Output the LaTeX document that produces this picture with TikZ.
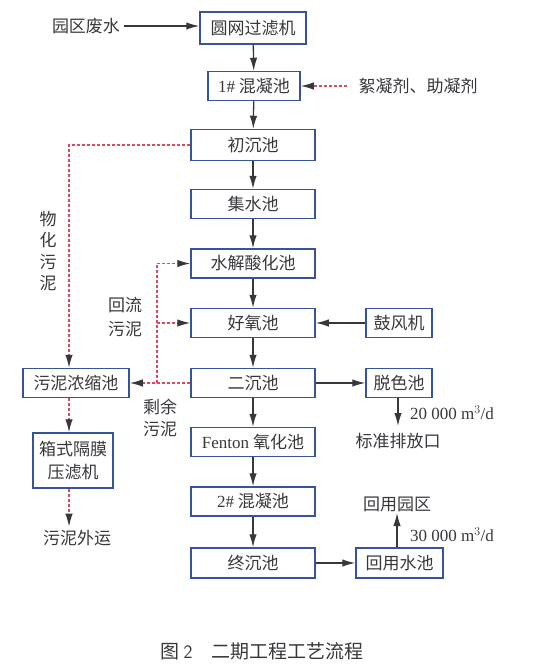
\documentclass[tikz,border=0pt]{standalone}
\usepackage{fontspec}
\setmainfont{Liberation Serif}
\newfontfamily\cjk{Noto Sans CJK SC}
\usetikzlibrary{arrows.meta}

\definecolor{poolblue}{RGB}{55,85,150}
\definecolor{inkgray}{RGB}{55,55,60}
\definecolor{sludgered}{RGB}{215,75,100}

\begin{document}
\begin{tikzpicture}[x=1pt,y=-1pt,
  every node/.style={font=\cjk\fontsize{17}{20}\selectfont, text=inkgray},
  pool/.style={draw=poolblue, line width=1.5pt, minimum height=29pt, inner sep=1pt},
  mainpool/.style={pool, minimum width=124pt},
  flow/.style={draw=inkgray, line width=1.3pt, -{Latex[length=13pt,width=7.5pt]}},
  sludge/.style={draw=sludgered, line width=1.3pt, dash pattern=on 3pt off 2pt,
    -{Latex[length=13pt,width=7.5pt,color=inkgray]}},
  plain/.style={draw=sludgered, line width=1.3pt, dash pattern=on 3pt off 2pt}]
  \useasboundingbox (0,0) rectangle (560,670);

  % main line
  \node[pool, minimum width=106pt, minimum height=32pt] (filter) at (253,28) {圆网过滤机};
  \node[pool, minimum width=92pt] (mix1) at (254,86) {{\rmfamily 1\#} 混凝池};
  \node[mainpool, minimum height=31pt] (primary) at (253,145) {初沉池};
  \node[mainpool] (collect) at (253,204) {集水池};
  \node[mainpool] (hydro) at (253,263.5) {水解酸化池};
  \node[mainpool] (aerobic) at (253,323) {好氧池};
  \node[mainpool] (second) at (253,383) {二沉池};
  \node[mainpool] (fenton) at (253,442) {{\rmfamily Fenton} 氧化池};
  \node[mainpool] (mix2) at (253,501.5) {{\rmfamily 2\#} 混凝池};
  \node[mainpool, minimum height=30pt] (final) at (253,563) {终沉池};

  % right side
  \node[pool, minimum width=66pt] (blower) at (399,323) {鼓风机};
  \node[pool, minimum width=66pt] (decolor) at (399,383) {脱色池};
  \node[pool, minimum width=87pt, minimum height=30pt] (reuse) at (399.5,563) {回用水池};

  % left side
  \node[pool, minimum width=106pt] (thicken) at (76,383) {污泥浓缩池};
  \node[pool, minimum width=80pt, minimum height=55pt, align=center,
    font=\cjk\fontsize{17}{23}\selectfont] (press) at (73,460.5) {箱式隔膜\\压滤机};

  % texts
  \node (waste) at (86,26) {园区废水};
  \node (floc) at (418,86) {絮凝剂、助凝剂};
  \node (haul) at (77,538) {污泥外运};
  \node (outlet) at (398,441) {标准排放口};
  \node[font=\rmfamily\fontsize{17}{20}\selectfont] (q1) at (452,413) {20 000 m$^3$/d};
  \node (park) at (397,504) {回用园区};
  \node[font=\rmfamily\fontsize{17}{20}\selectfont] (q2) at (452,535) {30 000 m$^3$/d};
  \node[align=center, font=\cjk\fontsize{17}{21.5}\selectfont] (chemlbl) at (48,251) {物\\化\\污\\泥};
  \node[align=center, font=\cjk\fontsize{17}{24}\selectfont] (returnlbl) at (125,317) {回流\\污泥};
  \node[align=center, font=\cjk\fontsize{17}{22}\selectfont] (excesslbl) at (160,418) {剩余\\污泥};
  \node[font=\cjk\fontsize{19}{22}\selectfont] (caption) at (262,651) {图 {\sffamily 2}\quad 二期工程工艺流程};

  % water flow
  \draw[flow] (waste.east) -- (waste.east -| filter.west);
  \draw[flow] (filter) -- (mix1);
  \draw[flow] (mix1) -- (primary);
  \draw[flow] (primary) -- (collect);
  \draw[flow] (collect) -- (hydro);
  \draw[flow] (hydro) -- (aerobic);
  \draw[flow] (aerobic) -- (second);
  \draw[flow] (second) -- (fenton);
  \draw[flow] (fenton) -- (mix2);
  \draw[flow] (mix2) -- (final);
  \draw[flow] (blower) -- (aerobic);
  \draw[flow] (second) -- (decolor);
  \draw[flow] (final) -- (reuse);
  \coordinate (dtip) at (398,426);
  \coordinate (rtip) at (397,513);
  \draw[flow] (decolor.south -| dtip) -- (dtip);
  \draw[flow] (reuse.north -| rtip) -- (rtip);

  % sludge and dosing
  \draw[sludge] (floc.west) ++(-8,0) -- (mix1.east);
  \coordinate (pcorner) at (69,145);
  \draw[sludge] (primary.west) -- (pcorner) -- (pcorner |- thicken.north);
  \coordinate (rjoin) at (157,383);
  \draw[sludge] (second.west) -- (thicken.east);
  \draw[plain] (rjoin) -- (rjoin |- hydro.west);
  \draw[sludge] (rjoin |- hydro.west) -- (hydro.west);
  \draw[sludge] (rjoin |- aerobic.west) -- (aerobic.west);
  \draw[sludge] (thicken.south -| pcorner) -- (press.north -| pcorner);
  \draw[sludge] (press.south -| pcorner) -- (haul.north -| pcorner);
\end{tikzpicture}
\end{document}
